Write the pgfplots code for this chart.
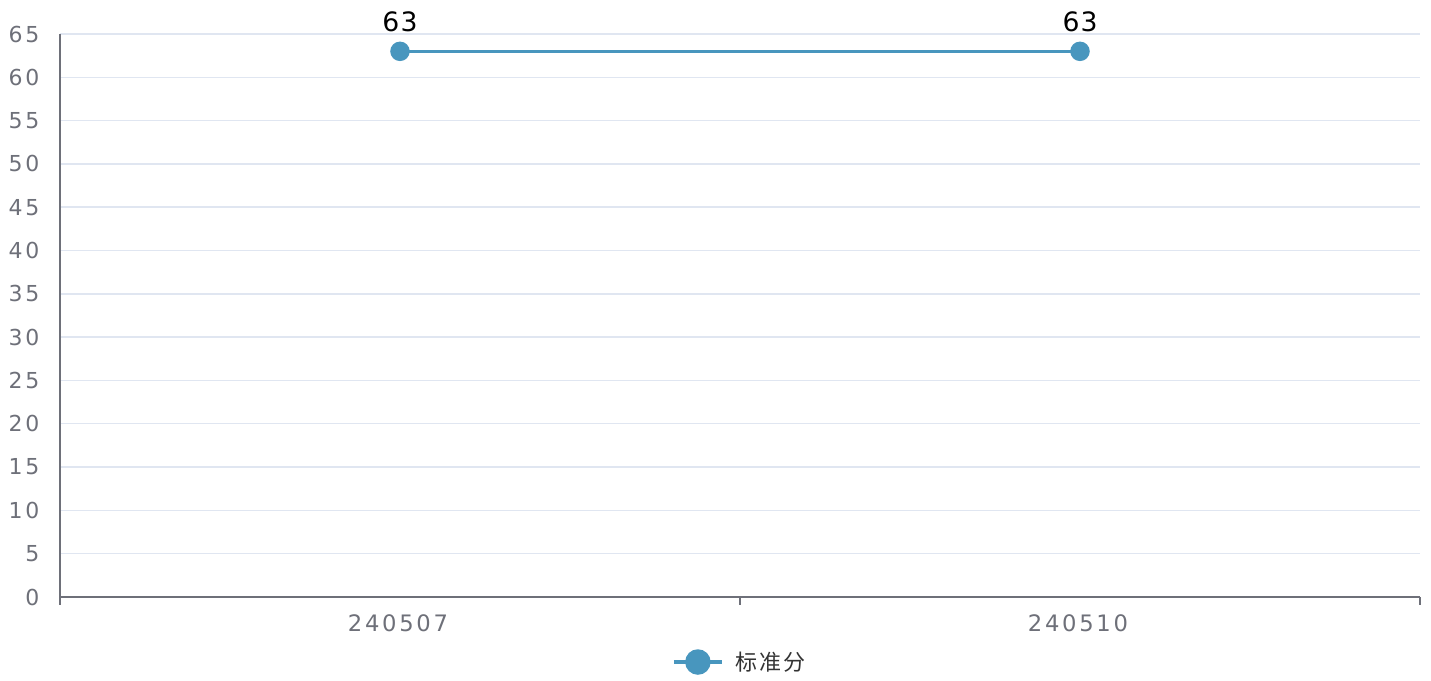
\documentclass[border=0pt]{standalone}
\usepackage{fontspec}
\setmainfont{DejaVu Sans}[LetterSpace=12]
\newfontfamily\lab{DejaVu Sans}[LetterSpace=4]
\newfontfamily\cjk{Noto Sans CJK SC}[LetterSpace=8]
\usepackage{pgfplots}
\pgfplotsset{compat=1.18}
\definecolor{LINE}{RGB}{72,150,190}
\definecolor{GRID}{RGB}{224,230,241}
\definecolor{AXIS}{RGB}{110,112,121}
\definecolor{LEG}{RGB}{51,51,51}
\begin{document}
\begin{tikzpicture}
\begin{axis}[
  scale only axis,
  width=1020pt, height=422.25pt,
  xmin=-0.5, xmax=1.5,
  ymin=0, ymax=65,
  axis x line=bottom, axis y line=left,
  axis line style={AXIS, line width=1pt, -},
  xtick={-0.5,0.5,1.5}, xticklabels={},
  x tick style={AXIS, line width=1pt},
  major tick length=6pt, tick align=outside,
  extra x ticks={0,1},
  extra x tick labels={240507,240510},
  extra x tick style={major tick length=0pt, tick style={draw=none}},
  xticklabel style={font=\fontsize{17}{20}\selectfont, text=AXIS, anchor=north, yshift=-10pt, xshift=-1.5pt},
  ytick={0,5,...,65},
  y tick style={draw=none},
  yticklabel style={font=\fontsize{16.5}{20}\selectfont, text=AXIS, anchor=east, xshift=-6pt},
  /pgf/number format/assume math mode=true,
  ymajorgrids,
  major grid style={GRID, line width=1.1pt},
  nodes near coords,
  every node near coord/.append style={font=\lab\fontsize{20}{24}\selectfont, text=black, yshift=10pt},
  legend style={draw=none, fill=none, at={(0.5,-0.1155)}, anchor=center,
    font=\cjk\fontsize{16.5}{20}\selectfont, text=LEG},
  legend image code/.code={
    \draw[LINE, line width=2.8pt] (0pt,0pt) -- (36pt,0pt);
    \fill[LINE] (18pt,0pt) circle (8.25pt);
  },
  legend cell align=left,
]
\addplot[LINE, line width=2.6pt, mark=*, mark size=6pt, mark options={fill=LINE, draw=LINE}]
  coordinates {(0,63) (1,63)};
\addlegendentry{\hspace{7pt}标准分}
\end{axis}
\pgfresetboundingbox
\path[use as bounding box] (-45pt,-63pt) rectangle (1028.25pt,447.75pt);
\end{tikzpicture}
\end{document}
